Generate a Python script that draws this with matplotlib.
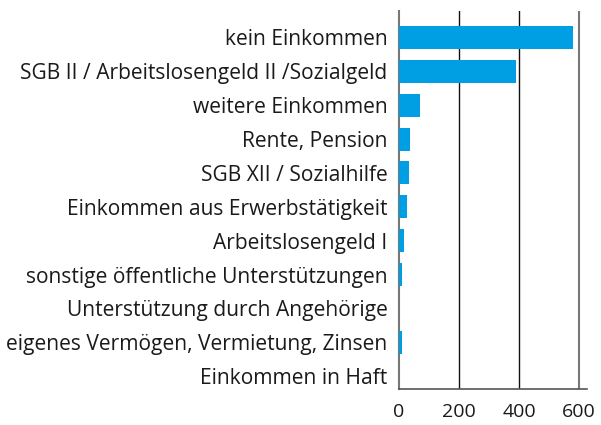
import matplotlib.pyplot as plt

# Data
categories = [
    'kein Einkommen',
    'SGB II / Arbeitslosengeld II /Sozialgeld',
    'weitere Einkommen',
    'Rente, Pension',
    'SGB XII / Sozialhilfe',
    'Einkommen aus Erwerbstätigkeit',
    'Arbeitslosengeld I',
    'sonstige öffentliche Unterstützungen',
    'Unterstützung durch Angehörige',
    'eigenes Vermögen, Vermietung, Zinsen',
    'Einkommen in Haft',
]
values = [580, 390, 70, 36, 33, 26, 17, 10, 0, 10, 0]
xticks = [0, 200, 400, 600]

plt.rcParams['font.family'] = ['Open Sans', 'DejaVu Sans']

fig = plt.figure(figsize=(6.01, 4.25), dpi=100)
ax = fig.add_axes([0.6634, 0.0847, 0.3136, 0.8893])

y = list(range(len(categories)))
ax.barh(y, values, height=0.68, color='#009fe3', zorder=3)

ax.set_yticks(y)
ax.set_yticklabels(categories, fontsize=15.1, color='#1a1a1a')
ax.set_ylim(10.38, -0.78)
ax.set_xlim(0, 627)
ax.set_xticks(xticks)
ax.set_xticklabels([str(v) for v in xticks], fontsize=14, color='#1a1a1a')
ax.tick_params(axis='both', length=0)
ax.tick_params(axis='y', pad=8)
ax.tick_params(axis='x', pad=10)

ax.grid(axis='x', color='#111111', linewidth=1.0, zorder=1)
ax.xaxis.get_gridlines()[-1].set_color('#777777')
ax.xaxis.get_gridlines()[-1].set_linewidth(1.5)
ax.xaxis.get_gridlines()[0].set_visible(False)

for side in ['top', 'right']:
    ax.spines[side].set_visible(False)
ax.spines['left'].set_color('#777777')
ax.spines['left'].set_linewidth(1.5)
ax.spines['bottom'].set_color('#555555')
ax.spines['bottom'].set_linewidth(1.2)

plt.savefig('out.png', dpi=100)
